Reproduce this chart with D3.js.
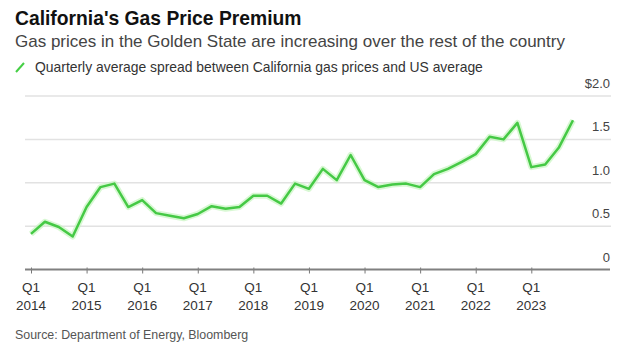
<!DOCTYPE html>
<html>
<head>
<meta charset="utf-8">
<script src="https://cdn.jsdelivr.net/npm/d3@7"></script>
<style>
  body { margin: 0; background: #fff; }
  text { font-family: "Liberation Sans", Arial, sans-serif; }
</style>
</head>
<body>
<svg id="chart"></svg>
<script>
// quarterly spread, Q1 2014 .. Q4 2023 ($ per gallon)
const quarters = d3.range(0, 40);
const spread = [
    0.41, 0.55, 0.49, 0.38, 0.72, 0.95, 0.99, 0.72,
    0.80, 0.65, 0.62, 0.59, 0.64, 0.73, 0.70, 0.72,
    0.85, 0.85, 0.76, 0.99, 0.93, 1.16, 1.03, 1.32,
    1.03, 0.95, 0.98, 0.99, 0.95, 1.10, 1.16, 1.24,
    1.33, 1.53, 1.50, 1.69, 1.18, 1.21, 1.41, 1.72
];
const yearLabels = ["2014", "2015", "2016", "2017", "2018", "2019", "2020", "2021", "2022", "2023"];
const yTicks = [0, 0.5, 1.0, 1.5, 2.0];

const dimensions = {
    width: 622,
    height: 352,
    left: 25,
    right: 611,
    top: 96,
    bottom: 269.5
};

const svg = d3.select("#chart")
    .attr("width", dimensions.width)
    .attr("height", dimensions.height);

const xScale = d3.scaleLinear()
    .domain([0, 39])
    .range([31, 573]);

const yScale = d3.scaleLinear()
    .domain([0, 2])
    .range([dimensions.bottom, dimensions.top]);

// titles
svg.append("text")
    .attr("x", 15)
    .attr("y", 25)
    .style("font-size", "19.3px")
    .style("font-weight", "bold")
    .attr("fill", "#111")
    .text("California's Gas Price Premium");

svg.append("text")
    .attr("x", 15)
    .attr("y", 47)
    .style("font-size", "17px")
    .attr("fill", "#444")
    .text("Gas prices in the Golden State are increasing over the rest of the country");

svg.append("line")
    .attr("x1", 16).attr("y1", 72)
    .attr("x2", 24).attr("y2", 63)
    .attr("stroke", "#45cf45")
    .attr("stroke-width", 2);

svg.append("text")
    .attr("x", 35)
    .attr("y", 72)
    .style("font-size", "13.9px")
    .attr("fill", "#333")
    .text("Quarterly average spread between California gas prices and US average");

// gridlines + right labels
const grid = svg.append("g");
grid.selectAll("line")
    .data(yTicks.filter(d => d > 0))
    .enter().append("line")
    .attr("x1", dimensions.left)
    .attr("x2", dimensions.right)
    .attr("y1", d => yScale(d))
    .attr("y2", d => yScale(d))
    .attr("stroke", "#e2e2e2")
    .attr("stroke-width", 1.5);

grid.selectAll("text")
    .data(yTicks)
    .enter().append("text")
    .attr("x", 610)
    .attr("y", d => yScale(d) - 8)
    .attr("text-anchor", "end")
    .style("font-size", "13px")
    .attr("fill", "#444")
    .text(d => d === 0 ? "0" : d === 2 ? "$2.0" : d3.format(".1f")(d));

// x axis
const xAxis = svg.append("g")
    .attr("transform", `translate(0, ${dimensions.bottom})`)
    .call(d3.axisBottom(xScale)
        .tickValues(yearLabels.map((y, i) => i * 4))
        .tickSize(4)
        .tickFormat(""));
xAxis.select(".domain").remove();
xAxis.selectAll(".tick line")
    .attr("y1", -2)
    .attr("stroke", "#777");

svg.append("line")
    .attr("x1", dimensions.left)
    .attr("x2", 610)
    .attr("y1", dimensions.bottom)
    .attr("y2", dimensions.bottom)
    .attr("stroke", "#808080")
    .attr("stroke-width", 2);

const labels = svg.append("g")
    .selectAll("g")
    .data(yearLabels)
    .enter().append("g")
    .attr("transform", (d, i) => `translate(${xScale(i * 4)},0)`);

labels.append("text")
    .attr("y", 292)
    .attr("text-anchor", "middle")
    .style("font-size", "13.5px")
    .attr("fill", "#333")
    .text("Q1");

labels.append("text")
    .attr("y", 310)
    .attr("text-anchor", "middle")
    .style("font-size", "13.5px")
    .attr("fill", "#333")
    .text(d => d);

// line
const line = d3.line()
    .x(d => xScale(d))
    .y(d => yScale(spread[d]));

svg.append("path")
    .datum(quarters)
    .attr("fill", "none")
    .attr("stroke", "#c8f5c0")
    .attr("stroke-width", 6)
    .attr("stroke-linejoin", "round")
    .attr("opacity", 0.7)
    .attr("d", line);

svg.append("path")
    .datum(quarters)
    .attr("fill", "none")
    .attr("stroke", "#45c945")
    .attr("stroke-width", 2.5)
    .attr("stroke-linejoin", "round")
    .attr("d", line);

svg.append("text")
    .attr("x", 15)
    .attr("y", 339)
    .style("font-size", "12.4px")
    .attr("fill", "#555")
    .text("Source: Department of Energy, Bloomberg");
</script>
</body>
</html>
